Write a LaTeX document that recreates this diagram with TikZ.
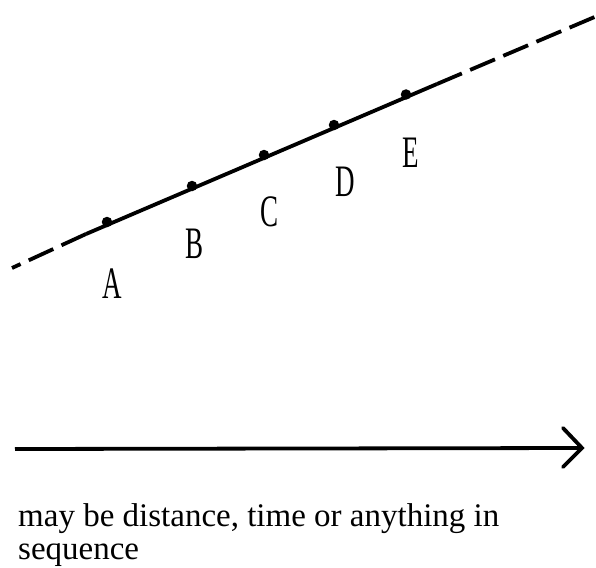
\documentclass[tikz,border=0pt]{standalone}
\usepackage{fontspec}
\setmainfont{Liberation Serif}
\begin{document}
\begin{tikzpicture}[x=1pt,y=-1pt,
  ln/.style={line width=3.8pt},
  dsh/.style={line width=3.8pt,dash pattern=on 27pt off 9pt},
  pt/.style={circle,fill=black,inner sep=0pt,minimum size=10.5pt},
  lbl/.style={font=\fontsize{45}{45}\selectfont,inner sep=0pt},
  captxt/.style={font=\fontsize{33}{38}\selectfont,inner sep=0pt,anchor=base west}]
\useasboundingbox (0,0) rectangle (596,567);
\coordinate (L0) at (12,268);
\coordinate (L1) at (86,234);
\coordinate (R0) at (437,84);
\coordinate (R1) at (604,13);
\node[pt] (A) at (107,222) {};
\node[pt] (B) at (192,186) {};
\node[pt] (C) at (264,155) {};
\node[pt] (D) at (334,125) {};
\node[pt] (E) at (406,94.5) {};
\draw[ln] (L1) -- (R0);
\draw[dsh] (L1) -- (L0);
\draw[dsh] (R0) -- (R1);
\node[lbl] (la) at (112,284) {\scalebox{0.6}[1]{A}};
\node[lbl] (lb) at (195,244) {\scalebox{0.6}[1]{B}};
\node[lbl] (lc) at (269,212) {\scalebox{0.6}[1]{C}};
\node[lbl] (ld) at (345,182) {\scalebox{0.6}[1]{D}};
\node[lbl] (le) at (411,153) {\scalebox{0.6}[1]{E}};
\coordinate (S) at (15,449);
\coordinate (T) at (582,448);
\draw[ln] (S) -- (T);
\draw[line width=3.8pt,line cap=round,line join=miter] (563,428) -- (T) -- (563,467);
\node[captxt] (t1) at (18,526) {may be distance, time or anything in};
\node[captxt] (t2) at (18,559) {sequence};
\end{tikzpicture}
\end{document}
